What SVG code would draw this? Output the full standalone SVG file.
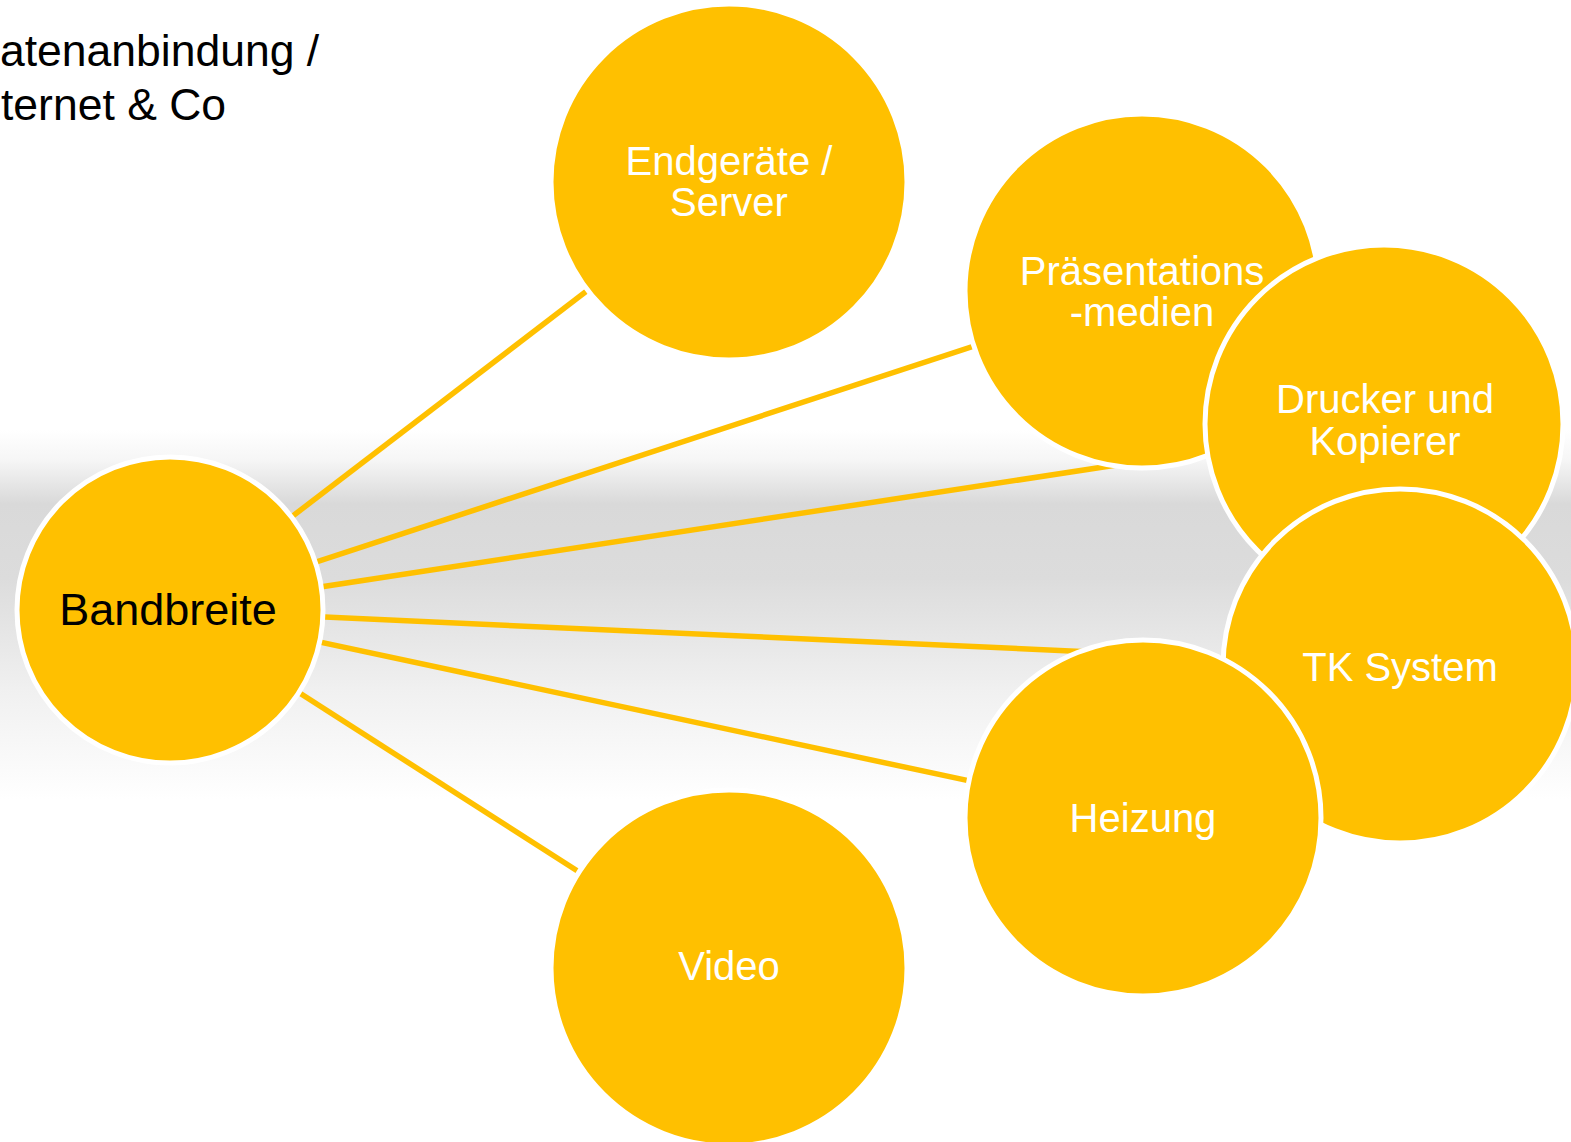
<svg xmlns="http://www.w3.org/2000/svg" width="1571" height="1142" viewBox="0 0 1571 1142">
<defs>
<linearGradient id="band" x1="0" y1="0" x2="0" y2="1">
<stop offset="0" stop-color="#FFFFFF"/>
<stop offset="0.08" stop-color="#F6F6F6"/>
<stop offset="0.2" stop-color="#D9D9D9"/>
<stop offset="0.4" stop-color="#DCDCDC"/>
<stop offset="0.7" stop-color="#F0F0F0"/>
<stop offset="1" stop-color="#FFFFFF"/>
</linearGradient>
</defs>
<style>
.node{fill:#FFC000;stroke:#FFFFFF;stroke-width:5}
.lbl{font-family:"Liberation Sans",Arial,sans-serif;font-size:40px;fill:#FFFFFF;text-anchor:middle}
.conn{stroke:#FFC000;stroke-width:5.5;fill:none}
.title{font-family:"Liberation Sans",Arial,sans-serif;font-size:44.5px;fill:#000000}
</style>
<rect x="0" y="0" width="1571" height="1142" fill="#FFFFFF"/>
<rect x="0" y="430" width="1571" height="370" fill="url(#band)"/>
<g id="title">
<text class="title" x="0" y="66">atenanbindung /</text>
<text class="title" x="1" y="120">ternet &amp; Co</text>
</g>
<g id="connectors">
<line class="conn" x1="170" y1="610" x2="729" y2="182"/>
<line class="conn" x1="170" y1="610" x2="1142" y2="291"/>
<line class="conn" x1="170" y1="610" x2="1384" y2="424"/>
<line class="conn" x1="170" y1="610" x2="1400" y2="666"/>
<line class="conn" x1="170" y1="610" x2="1143" y2="818"/>
<line class="conn" x1="170" y1="610" x2="729" y2="968"/>
</g>
<g id="endgeraete">
<circle class="node" cx="729" cy="182" r="178"/>
<text class="lbl" x="729" y="175">Endgeräte /</text>
<text class="lbl" x="729" y="216">Server</text>
</g>
<g id="praesentation">
<circle class="node" cx="1142" cy="291" r="177"/>
<text class="lbl" x="1142" y="285">Präsentations</text>
<text class="lbl" x="1142" y="326">-medien</text>
</g>
<g id="drucker">
<circle class="node" cx="1384" cy="424" r="179"/>
<text class="lbl" x="1385" y="413">Drucker und</text>
<text class="lbl" x="1385" y="455">Kopierer</text>
</g>
<g id="tk">
<circle class="node" cx="1400" cy="666" r="177"/>
<text class="lbl" x="1400" y="681">TK System</text>
</g>
<g id="heizung">
<circle class="node" cx="1143" cy="818" r="178"/>
<text class="lbl" x="1143" y="832">Heizung</text>
</g>
<g id="video">
<circle class="node" cx="729" cy="968" r="178"/>
<text class="lbl" x="729" y="980">Video</text>
</g>
<g id="bandbreite">
<circle class="node" cx="170" cy="610" r="153"/>
<text x="168" y="625" font-family="Liberation Sans, Arial, sans-serif" font-size="45" fill="#000000" text-anchor="middle">Bandbreite</text>
</g>
</svg>
